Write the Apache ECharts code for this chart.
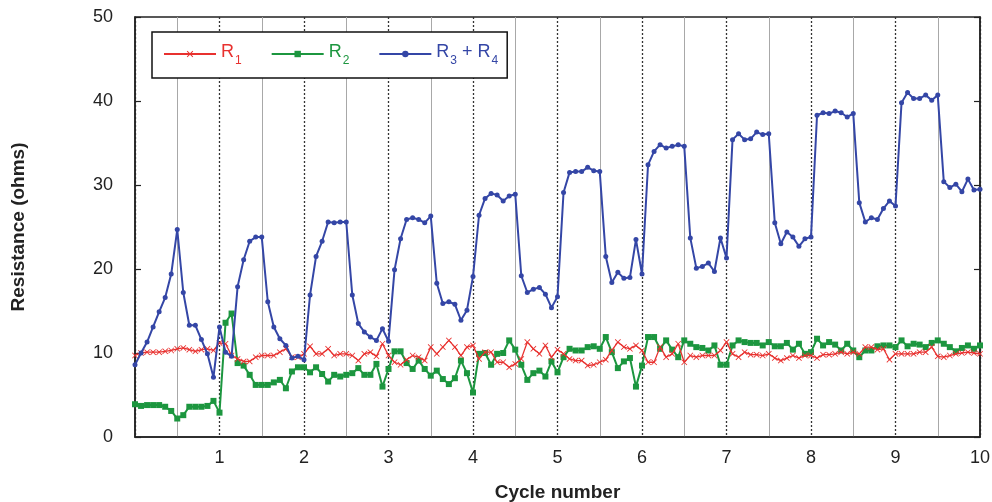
<!DOCTYPE html>
<html>
<head>
<meta charset="utf-8">
<script src="https://cdn.jsdelivr.net/npm/echarts@6/dist/echarts.min.js"></script>
<style>
html,body{margin:0;padding:0;background:#fff;}
#c{width:992px;height:502px;}
</style>
</head>
<body>
<div id="c"></div>
<script>
// Samples are taken at a fixed rate of 14 per cycle (cycle 0 .. 10)
const samplesPerCycle = 14;
const xTickLabels = ['', '1', '2', '3', '4', '5', '6', '7', '8', '9', '10'];
const yTickLabels = ['0', '10', '20', '30', '40', '50'];
const seriesNames = ['R1', 'R2', 'R3 + R4'];

const r1 = [
  9.7, 10.0, 10.1, 10.1, 10.1, 10.2, 10.3, 10.5, 10.6, 10.4, 10.2, 10.4, 10.5, 10.3,
  11.2, 11.1, 9.7, 9.3, 9.0, 9.0, 9.5, 9.7, 9.7, 9.7, 10.1, 10.5, 9.5, 9.5,
  9.9, 10.8, 9.9, 9.9, 10.5, 9.7, 9.9, 9.9, 9.7, 9.1, 9.9, 10.1, 9.6, 11.1,
  9.7, 8.9, 8.6, 9.2, 9.7, 9.5, 9.1, 10.7, 9.9, 10.7, 11.5, 10.7, 9.7, 10.7,
  10.9, 9.3, 10.1, 10.1, 8.9, 8.9, 8.3, 8.7, 9.3, 11.3, 10.5, 9.9, 10.9, 9.5,
  10.4, 9.9, 9.3, 9.1, 9.1, 8.5, 8.6, 8.9, 9.2, 10.3, 11.3, 10.7, 10.5, 10.9,
  10.3, 8.9, 8.9, 10.7, 9.5, 9.9, 11.1, 8.9, 9.7, 9.5, 9.7, 9.7, 9.7, 10.3,
  11.3, 9.9, 9.5, 10.1, 9.8, 9.8, 9.7, 9.9, 9.4, 9.1, 9.4, 9.7, 9.4, 9.7,
  9.7, 9.4, 9.8, 9.8, 9.9, 10.1, 9.9, 10.1, 9.9, 10.7, 10.7, 10.4, 10.5, 9.2,
  9.9, 9.9, 9.9, 9.9, 10.1, 10.1, 10.7, 9.6, 9.5, 9.7, 9.9, 10.0, 10.1, 10.0, 9.9
];
const r2 = [
  3.9, 3.7, 3.8, 3.8, 3.8, 3.6, 3.1, 2.2, 2.6, 3.6, 3.6, 3.6, 3.7, 4.3,
  2.9, 13.6, 14.7, 8.8, 8.5, 7.4, 6.2, 6.2, 6.2, 6.5, 6.8, 5.8, 7.8, 8.3,
  8.3, 7.7, 8.3, 7.5, 6.6, 7.4, 7.2, 7.4, 7.6, 8.2, 7.4, 7.4, 8.7, 6.0,
  8.1, 10.2, 10.2, 8.8, 8.1, 9.1, 8.1, 7.3, 7.9, 6.9, 6.3, 7.0, 9.1, 7.6,
  5.3, 9.9, 10.0, 8.6, 9.9, 10.0, 11.5, 10.4, 8.6, 6.8, 7.6, 7.9, 7.2, 9.0,
  7.7, 9.5, 10.5, 10.3, 10.3, 10.7, 10.8, 10.5, 11.9, 10.1, 8.2, 9.0, 9.4, 6.0,
  8.5, 11.9, 11.9, 10.5, 11.5, 10.4, 9.5, 11.5, 11.1, 10.7, 10.6, 10.3, 10.9, 8.6,
  8.6, 10.9, 11.5, 11.3, 11.2, 11.2, 10.9, 11.3, 10.8, 10.8, 11.2, 10.4, 11.1, 9.9,
  10.1, 11.7, 10.9, 11.3, 11.0, 10.3, 11.1, 10.3, 9.5, 10.3, 10.3, 10.8, 10.9, 10.9,
  10.7, 11.5, 10.8, 11.1, 11.0, 10.7, 11.2, 11.5, 11.1, 10.7, 10.2, 10.6, 10.9, 10.5, 10.9
];
const r34 = [
  8.6, 10.0, 11.3, 13.1, 14.9, 16.6, 19.4, 24.7, 17.2, 13.3, 13.3, 11.6, 9.9, 7.1,
  13.1, 10.1, 9.6, 17.9, 21.1, 23.3, 23.8, 23.8, 16.1, 13.1, 11.7, 10.9, 9.4, 9.6,
  9.2, 16.9, 21.5, 23.3, 25.6, 25.5, 25.6, 25.6, 16.9, 13.5, 12.5, 11.9, 11.5, 12.9,
  11.4, 19.9, 23.6, 25.9, 26.1, 25.9, 25.5, 26.3, 18.3, 15.9, 16.1, 15.8, 13.9, 15.1,
  19.1, 26.4, 28.4, 29.0, 28.8, 28.1, 28.7, 28.9, 19.2, 17.2, 17.6, 17.8, 17.0, 15.4,
  16.7, 29.1, 31.5, 31.6, 31.6, 32.1, 31.7, 31.6, 21.5, 18.4, 19.6, 18.9, 19.0, 23.5,
  19.4, 32.4, 34.0, 34.8, 34.4, 34.6, 34.8, 34.6, 23.7, 20.1, 20.3, 20.7, 19.7, 23.7,
  21.3, 35.4, 36.1, 35.4, 35.5, 36.3, 36.0, 36.1, 25.5, 23.0, 24.4, 23.8, 22.7, 23.6,
  23.8, 38.3, 38.6, 38.5, 38.8, 38.6, 38.1, 38.5, 27.9, 25.6, 26.1, 25.9, 27.2, 28.1,
  27.5, 39.8, 41.0, 40.3, 40.3, 40.7, 40.1, 40.7, 30.4, 29.7, 30.1, 29.2, 30.7, 29.4, 29.5
];

function pairs(vals) {
  return vals.map(function (v, i) { return [i / samplesPerCycle, v]; });
}

const RED = '#e8312f', GREEN = '#1c963f', BLUE = '#3446a6';
const crossPath = 'path://M0,1L1,0L5,4L9,0L10,1L6,5L10,9L9,10L5,6L1,10L0,9L4,5Z';

const chart = echarts.init(document.getElementById('c'), null, {renderer: 'canvas'});
const font = 'Liberation Sans, Arial, sans-serif';
chart.setOption({
  animation: false,
  backgroundColor: '#fff',
  grid: {left: 135, right: 12, top: 17, bottom: 65, outerBoundsMode: 'none', containLabel: false,
    show: true, borderColor: '#222', borderWidth: 1.5, backgroundColor: 'transparent'},
  legend: {
    left: 152, top: 32,
    padding: [11, 9, 11, 11],
    itemGap: 29, itemWidth: 52, itemHeight: 8,
    backgroundColor: '#fff', borderColor: '#111', borderWidth: 1.5, borderRadius: 0,
    data: seriesNames,
    formatter: function (name) {
      if (name === 'R1') return '{ra|R}{sa|1}';
      if (name === 'R2') return '{rb|R}{sb|2}';
      return '{rc|R}{sc|3}{rc| + R}{sc|4}';
    },
    textStyle: {
      fontFamily: font,
      rich: {
        ra: {fontSize: 18, color: RED, fontFamily: font, verticalAlign: 'top', lineHeight: 22},
        sa: {fontSize: 12, color: RED, fontFamily: font, verticalAlign: 'top', lineHeight: 22, padding: [12, 0, 0, 1]},
        rb: {fontSize: 18, color: GREEN, fontFamily: font, verticalAlign: 'top', lineHeight: 22},
        sb: {fontSize: 12, color: GREEN, fontFamily: font, verticalAlign: 'top', lineHeight: 22, padding: [12, 0, 0, 1]},
        rc: {fontSize: 18, color: BLUE, fontFamily: font, verticalAlign: 'top', lineHeight: 22},
        sc: {fontSize: 12, color: BLUE, fontFamily: font, verticalAlign: 'top', lineHeight: 22, padding: [12, 0, 0, 1]}
      }
    }
  },
  xAxis: {
    type: 'value', min: 0, max: 10, interval: 1,
    name: 'Cycle number', nameLocation: 'middle', nameGap: 46,
    nameTextStyle: {fontFamily: font, fontSize: 19, fontWeight: 'bold', color: '#222'},
    axisLine: {show: true, lineStyle: {color: '#222', width: 1.5}},
    axisTick: {show: false},
    axisLabel: {fontFamily: font, fontSize: 18, color: '#222', margin: 12,
      formatter: function (v) { return xTickLabels[Math.round(v)]; }},
    splitLine: {show: true, lineStyle: {color: '#333', width: 1.3, type: [2, 2]}},
    minorTick: {show: false, splitNumber: 2},
    minorSplitLine: {show: true, lineStyle: {color: '#a8a8a8', width: 1}}
  },
  yAxis: [{
    type: 'value', min: 0, max: 50, interval: 10,
    name: 'Resistance (ohms)', nameLocation: 'middle', nameGap: 107,
    nameTextStyle: {fontFamily: font, fontSize: 19, fontWeight: 'bold', color: '#222'},
    axisLine: {show: true, lineStyle: {color: '#222', width: 1.5}},
    axisTick: {show: true, inside: true, length: 6, lineStyle: {color: '#222', width: 1.2}},
    axisLabel: {fontFamily: font, fontSize: 18, color: '#222', margin: 22,
      formatter: function (v) { return yTickLabels[Math.round(v / 10)]; }},
    splitLine: {show: false}
  }, {
    type: 'value', min: 0, max: 50, interval: 10, position: 'right',
    axisLine: {show: true, lineStyle: {color: '#222', width: 1.5}},
    axisTick: {show: true, inside: true, length: 6, lineStyle: {color: '#222', width: 1.2}},
    axisLabel: {show: false},
    splitLine: {show: false}
  }],
  series: [{
    name: 'R1', type: 'line', data: pairs(r1), z: 4,
    symbol: crossPath, symbolSize: 6, showAllSymbol: true,
    lineStyle: {color: RED, width: 1.3}, itemStyle: {color: RED}
  }, {
    name: 'R2', type: 'line', data: pairs(r2), z: 3,
    symbol: 'rect', symbolSize: 6, showAllSymbol: true,
    lineStyle: {color: GREEN, width: 2}, itemStyle: {color: GREEN}
  }, {
    name: 'R3 + R4', type: 'line', data: pairs(r34), z: 5,
    symbol: 'circle', symbolSize: 5, showAllSymbol: true,
    lineStyle: {color: BLUE, width: 2}, itemStyle: {color: BLUE}
  }]
});
</script>
</body>
</html>
